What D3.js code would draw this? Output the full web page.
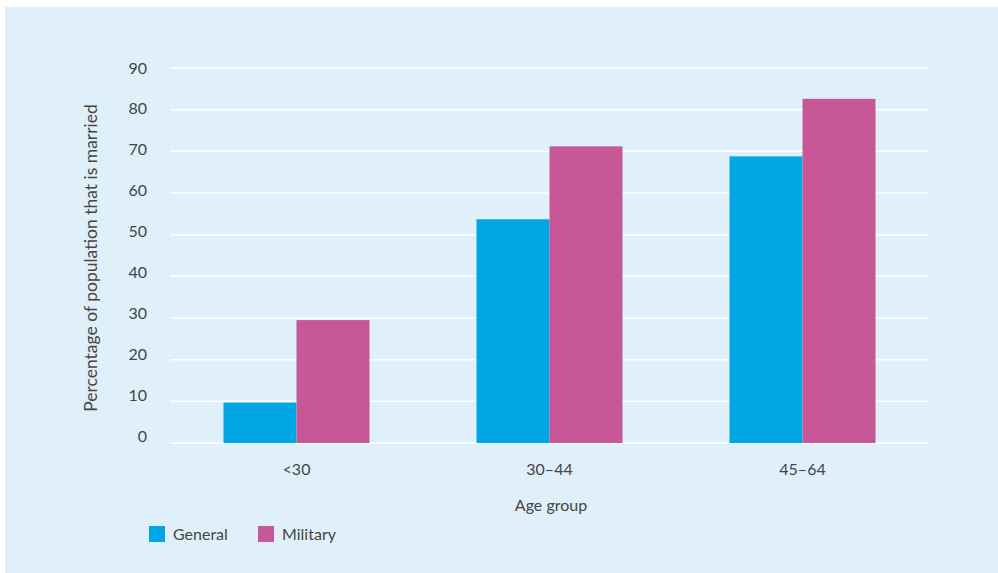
<!DOCTYPE html>
<html>
<head>
<meta charset="utf-8">
<script src="https://cdn.jsdelivr.net/npm/d3@7"></script>
<style>
  body { margin: 0; background: #fff; }
  text { font-family: Lato, "Open Sans", sans-serif; fill: #454545; }
</style>
</head>
<body>
<svg id="chart" width="998" height="573"></svg>
<script>
// data
const ageGroups = ["<30", "30–44", "45–64"];
const seriesNames = ["General", "Military"];
const generalValues = [9.7, 53.7, 68.8];
const militaryValues = [29.5, 71.2, 82.6];
const yTicks = [0, 10, 20, 30, 40, 50, 60, 70, 80, 90];

const colors = { General: "#00a7e3", Military: "#c75796" };

const svg = d3.select("#chart");

// panel background
svg.append("rect")
  .attr("x", 5).attr("y", 7)
  .attr("width", 993).attr("height", 566)
  .attr("fill", "#dff0fa");

const plotLeft = 170, plotRight = 929, plotTop = 68, plotBottom = 443;

const y = d3.scaleLinear().domain([0, 90]).range([plotBottom, plotTop]);
// tick labels in the original drift slightly off the gridlines
const yLabel = d3.scaleLinear().domain([0, 90]).range([436, 68]);

const x0 = d3.scaleBand()
  .domain(ageGroups)
  .range([plotLeft, plotRight])
  .paddingInner(0.423)
  .paddingOuter(0.2115);

const x1 = d3.scaleBand()
  .domain(seriesNames)
  .range([0, x0.bandwidth()]);

const rows = ageGroups.map((g, i) => ({
  group: g,
  values: [
    { name: "General", value: generalValues[i] },
    { name: "Military", value: militaryValues[i] }
  ]
}));

// gridlines
svg.append("g")
  .selectAll("line")
  .data(yTicks)
  .join("line")
  .attr("x1", plotLeft).attr("x2", plotRight)
  .attr("y1", d => y(d)).attr("y2", d => y(d))
  .attr("stroke", "#ffffff")
  .attr("stroke-width", 1.5);

// y tick labels
svg.append("g")
  .selectAll("text")
  .data(yTicks)
  .join("text")
  .attr("x", 147)
  .attr("y", d => yLabel(d))
  .attr("dy", "0.35em")
  .attr("text-anchor", "end")
  .style("font-size", "16px")
  .text(d => d);

// bars
svg.append("g")
  .selectAll("g")
  .data(rows)
  .join("g")
  .attr("transform", d => `translate(${x0(d.group)},0)`)
  .selectAll("rect")
  .data(d => d.values)
  .join("rect")
  .attr("x", d => x1(d.name))
  .attr("y", d => y(d.value))
  .attr("width", x1.bandwidth())
  .attr("height", d => y(0) - y(d.value))
  .attr("fill", d => colors[d.name]);

// x tick labels
svg.append("g")
  .selectAll("text")
  .data(ageGroups)
  .join("text")
  .attr("x", d => x0(d) + x0.bandwidth() / 2)
  .attr("y", 475)
  .attr("text-anchor", "middle")
  .style("font-size", "16px")
  .text(d => d);

// axis titles
svg.append("text")
  .attr("x", 551).attr("y", 511)
  .attr("text-anchor", "middle")
  .style("font-size", "16px")
  .text("Age group");

svg.append("text")
  .attr("transform", "translate(97,258) rotate(-90)")
  .attr("text-anchor", "middle")
  .style("font-size", "17.5px")
  .text("Percentage of population that is married");

// legend
const legend = svg.append("g")
  .selectAll("g")
  .data(seriesNames)
  .join("g")
  .attr("transform", (d, i) => `translate(${149 + i * 109},526)`);

legend.append("rect")
  .attr("width", 16).attr("height", 16)
  .attr("fill", d => colors[d]);

legend.append("text")
  .attr("x", 24).attr("y", 14)
  .style("font-size", "16px")
  .text(d => d);
</script>
</body>
</html>
